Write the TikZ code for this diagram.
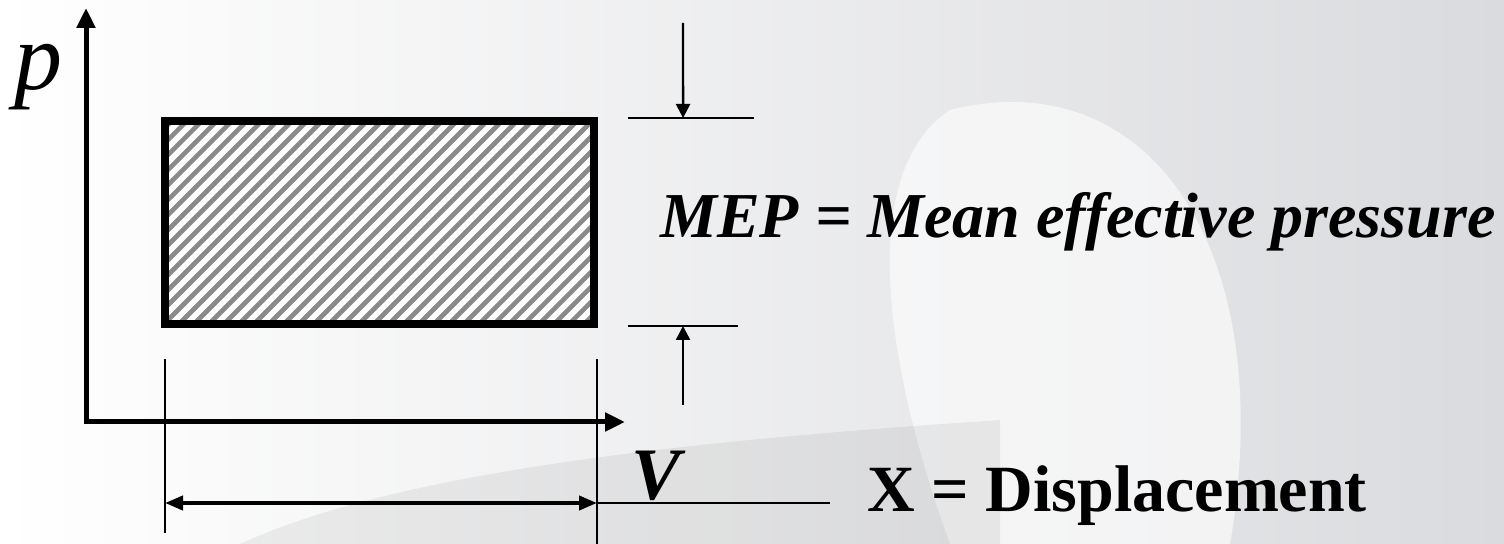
\documentclass[tikz,border=0pt]{standalone}
\usepackage{fontspec}
\setmainfont{Liberation Serif}
\usetikzlibrary{arrows.meta,positioning,calc}
\definecolor{hatchgray}{HTML}{8A8A8A}
\definecolor{bgshade}{HTML}{DADBDE}
\tikzset{
  axisline/.style={line width=2.5pt, -{Triangle[length=10pt,width=9pt]}},
  dimline/.style={line width=1.2pt},
  dimarrow/.style={line width=1.2pt, -{Triangle[length=7pt,width=7pt]}},
  spanarrow/.style={line width=2pt, {Triangle[length=9pt,width=7pt]}-{Triangle[length=9pt,width=7pt]}},
  workbox/.style={draw, line width=3.8pt},
  hatchline/.style={draw=hatchgray, line width=2.3pt},
  symlabel/.style={inner sep=0pt, font=\fontsize{#1}{#1}\selectfont\bfseries\itshape},
  deflabel/.style={inner sep=0pt, anchor=base west},
}
\begin{document}
\begin{tikzpicture}[x=0.5pt,y=-0.5pt]
  \useasboundingbox (0,0) rectangle (1504,544);
  % Background
  \shade[left color=white, right color=bgshade] (0,0) rectangle (1504,544);
  \fill[white, opacity=0.6] (950,110) .. controls (1150,60) and (1280,250) .. (1230,544)
    -- (950,544) .. controls (880,350) and (860,170) .. (950,110);
  \fill[black, opacity=0.06] (240,544) .. controls (400,470) and (700,440) .. (1000,420)
    -- (1000,544) -- cycle;

  % Axes
  \coordinate (origin) at (86,422);
  \coordinate (ptop) at (86,8);
  \coordinate (vtip) at (625,422);
  \draw[axisline] (origin) -- (ptop);
  \draw[axisline] ([xshift=-1.25pt]origin) -- (vtip);
  \node[symlabel=48, font=\fontsize{48}{48}\selectfont\itshape] (plabel) at (38,77) {p};
  \node[symlabel=37] (vlabel) at (656,476) {V};

  % Work area
  \node[minimum width=428pt*0.5, minimum height=202pt*0.5, anchor=north west,
    inner sep=0pt] (area) at (165,121) {};
  \fill[white] (area.north west) rectangle (area.south east);
  \begin{scope}
    \clip (area.north west) rectangle (area.south east);
    \foreach \hx in {-45,-30,...,600}
      \draw[hatchline] (\hx,323) -- ++(202,-202);
  \end{scope}
  \draw[workbox] (area.north west) rectangle (area.south east);

  % MEP markers
  \coordinate (mtop) at (683,23);
  \coordinate (mbot) at (683,405);
  \draw[dimline] (628,118) coordinate (tickA) -- (754,118) coordinate (tickB);
  \draw[dimline] (628,326) coordinate (tickC) -- (738,326) coordinate (tickD);
  \draw[dimarrow] (mtop) -- ($(tickA)!0.437!(tickB)$);
  \draw[dimarrow] (mbot) -- ($(tickC)!0.5!(tickD)$);
  \node[deflabel, font=\fontsize{32}{32}\selectfont\bfseries\itshape] (meplabel) at (660,238)
    {MEP = Mean effective pressure};

  % Displacement
  \draw[dimline] (165,359) coordinate (extL) -- (165,533);
  \draw[dimline] (597,359) coordinate (extR) -- (597,544);
  \draw[spanarrow] (extL |- 0,503) -- (extR |- 0,503);
  \draw[dimline] (597,503) -- (830,503) coordinate (vend);
  \node[deflabel, font=\fontsize{33}{33}\selectfont\bfseries] (displabel) at (867,512)
    {X = Displacement};
\end{tikzpicture}
\end{document}
